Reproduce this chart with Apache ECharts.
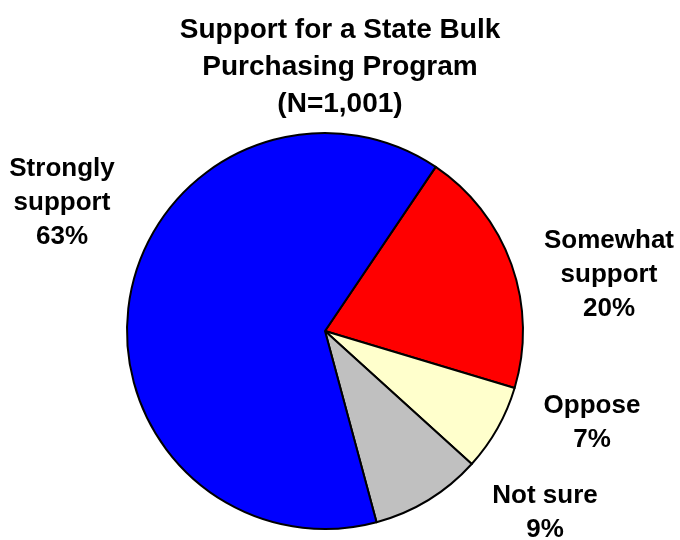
<!DOCTYPE html>
<html>
<head>
<meta charset="utf-8">
<title>Support for a State Bulk Purchasing Program</title>
<script src="https://cdn.jsdelivr.net/npm/echarts@6/dist/echarts.min.js"></script>
<style>
  html, body { margin: 0; padding: 0; background: #ffffff; }
  #chart { width: 680px; height: 540px; }
</style>
</head>
<body>
<div id="chart"></div>
<script>
// Survey responses, listed clockwise starting from the top-right edge
const categories = ['Somewhat\nsupport', 'Oppose', 'Not sure', 'Strongly\nsupport'];
const shares = [20, 7, 9, 63];
const sliceColors = ['#ff0000', '#ffffcc', '#c0c0c0', '#0000ff'];

// Where each slice's caption sits (centre of the text block, in px)
const captionSpots = [[609, 275], [592, 423], [545, 513], [62, 203]];

const chart = echarts.init(document.getElementById('chart'), null, { renderer: 'canvas' });

chart.setOption({
  backgroundColor: '#ffffff',
  animation: false,
  title: {
    text: 'Support for a State Bulk\nPurchasing Program\n(N=1,001)',
    left: 'center',
    top: 7,
    textStyle: {
      fontFamily: '"Liberation Sans", Arial, sans-serif',
      fontWeight: 'bold',
      fontSize: 28,
      lineHeight: 37,
      color: '#000000'
    }
  },
  series: [{
    type: 'pie',
    center: [325, 331],
    radius: 198,
    startAngle: 56,
    clockwise: true,
    avoidLabelOverlap: false,
    itemStyle: { borderColor: '#000000', borderWidth: 2 },
    label: {
      show: true,
      position: 'outside',
      formatter: p => p.name + '\n' + p.value + '%',
      fontFamily: '"Liberation Sans", Arial, sans-serif',
      fontWeight: 'bold',
      fontSize: 26,
      lineHeight: 34,
      color: '#000000',
      align: 'center'
    },
    labelLine: { show: false },
    labelLayout: p => ({
      x: captionSpots[p.dataIndex][0],
      y: captionSpots[p.dataIndex][1],
      align: 'center',
      verticalAlign: 'middle'
    }),
    emphasis: { disabled: true },
    data: categories.map((name, i) => ({
      name: name,
      value: shares[i],
      itemStyle: { color: sliceColors[i] }
    }))
  }]
});
</script>
</body>
</html>
